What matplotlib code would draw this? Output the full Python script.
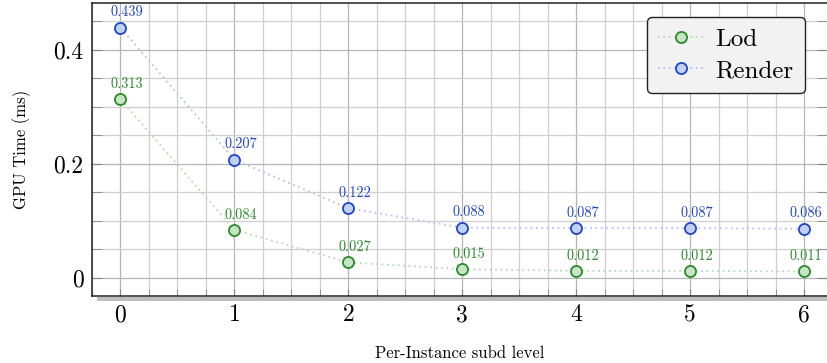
import matplotlib

matplotlib.use("Agg")
import matplotlib.pyplot as plt  # noqa: E402
from matplotlib.patches import Rectangle  # noqa: E402
from matplotlib.ticker import MultipleLocator  # noqa: E402

plt.rcParams["font.family"] = ["cmr10", "DejaVu Serif"]
plt.rcParams["mathtext.fontset"] = "cm"
plt.rcParams["axes.formatter.use_mathtext"] = True

levels = [0, 1, 2, 3, 4, 5, 6]
lod = [0.313, 0.084, 0.027, 0.015, 0.012, 0.012, 0.011]
render = [0.439, 0.207, 0.122, 0.088, 0.087, 0.087, 0.086]
x_ticks = [0, 1, 2, 3, 4, 5, 6]
y_ticks = [0, 0.2, 0.4]
y_tick_labels = ["0", "0.2", "0.4"]

series = [
    ("Lod", lod, "#2a8a2a", "#c6e4c6", "#b4dcb4"),
    ("Render", render, "#1f45c4", "#c2d1f2", "#b3c3f0"),
]

fig = plt.figure(figsize=(8.27, 3.63), dpi=100)
ax = fig.add_axes([0.1112, 0.1846, 0.8888, 0.807])

for name, vals, edge, fill, line in series:
    ax.plot(levels, vals, linestyle=(0, (1, 2)), color=line, lw=1.3,
            marker="o", markersize=8, markerfacecolor=fill,
            markeredgecolor=edge, markeredgewidth=1.3, label=name, zorder=3)
    for x, v in zip(levels, vals):
        dx = 4.5 if x < levels[-1] else 1.5
        ax.annotate(f"{v:.3f}", (x, v), xytext=(dx, 6), textcoords="offset points",
                    ha="center", va="bottom", fontsize=10.3, color=edge, zorder=4)

ax.set_xlim(-0.25, 6.2)
ax.set_ylim(-0.032, 0.482)
ax.set_xticks(x_ticks)
ax.set_xticklabels([str(t) for t in x_ticks])
ax.set_yticks(y_ticks)
ax.set_yticklabels(y_tick_labels)
ax.xaxis.set_minor_locator(MultipleLocator(0.25))
ax.yaxis.set_minor_locator(MultipleLocator(0.05))
ax.grid(True, which="major", color="#b4b4b4", lw=0.9)
ax.grid(True, which="minor", color="#cfcfcf", lw=0.9)
ax.set_axisbelow(True)
ax.tick_params(which="both", direction="in", top=False, right=True,
               labelsize=17, length=5, color="#888888", pad=6)
ax.tick_params(axis="y", which="both", length=7)

for s in ("left", "bottom", "top"):
    ax.spines[s].set_linewidth(1.1)
    ax.spines[s].set_color("#222222")
ax.spines["right"].set_visible(False)

# drop shadow under the bottom axis line
ax.add_patch(Rectangle((0.007, -0.018), 1.0, 0.014, transform=ax.transAxes,
                       facecolor="#bdbdbd", edgecolor="none", clip_on=False))

ax.set_xlabel("Per-Instance subd level", fontsize=12, labelpad=14)
ax.set_ylabel("GPU Time (ms)", fontsize=12, labelpad=16)

leg = ax.legend(loc="upper right", bbox_to_anchor=(0.970, 0.952), fontsize=18,
                frameon=True, fancybox=True, facecolor="#f2f2f2",
                edgecolor="#222222", framealpha=1, handlelength=1.8,
                borderpad=0.45, labelspacing=0.35, handletextpad=0.5,
                borderaxespad=0)
leg.get_frame().set_linewidth(1.0)
leg.get_frame().set_boxstyle("round,pad=0.0,rounding_size=0.2")
for t in leg.get_texts():
    t.set_ha("center")

fig.savefig("out.png", dpi=100, facecolor="white")
